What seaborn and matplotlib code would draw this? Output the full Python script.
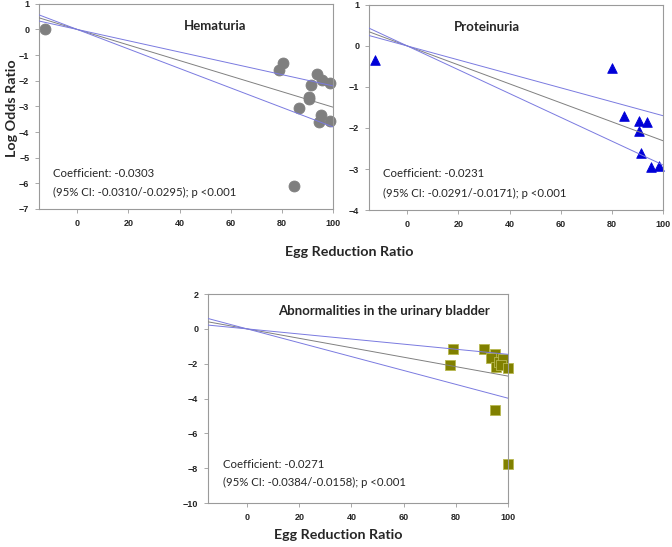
import numpy as np
import matplotlib.pyplot as plt
import seaborn as sns
import pandas as pd

# --- data ---
hema_x = [-12.7, 78.8, 80.4, 93.9, 95.8, 99.0, 91.5, 90.6, 90.6, 86.9, 95.4, 94.4, 98.7, 84.7]
hema_y = [0.0, -1.58, -1.32, -1.74, -1.97, -2.10, -2.17, -2.62, -2.73, -3.08, -3.34, -3.60, -3.57, -6.09]

prot_x = [-12.7, 80.1, 84.6, 90.6, 93.7, 90.6, 91.5, 95.4, 98.4]
prot_y = [-0.35, -0.53, -1.70, -1.82, -1.85, -2.07, -2.60, -2.95, -2.93]

blad_x = [78.9, 77.9, 90.7, 95.1, 93.6, 95.5, 96.5, 98.1, 97.4, 100.0, 94.9, 100.0]
blad_y = [-1.13, -2.10, -1.17, -1.42, -1.65, -2.19, -1.90, -1.71, -2.10, -2.23, -4.65, -7.77]

# regression slope (gray) and the two blue band lines, all through the origin
hema_slopes = [-0.0303, -0.038, -0.022]
prot_slopes = [-0.0231, -0.029, -0.017]
blad_slopes = [-0.0271, -0.0398, -0.0146]

titles = ["Hematuria", "Proteinuria", "Abnormalities in the urinary bladder"]
coef_lines = [
    ("Coefficient: -0.0303", "(95% CI: -0.0310/-0.0295); p <0.001"),
    ("Coefficient: -0.0231", "(95% CI: -0.0291/-0.0171); p <0.001"),
    ("Coefficient: -0.0271", "(95% CI: -0.0384/-0.0158); p <0.001"),
]
x_ticks = [0, 20, 40, 60, 80, 100]

sns.set_style("white")
plt.rcParams["font.family"] = ["Lato", "DejaVu Sans"]

fig = plt.figure(figsize=(6.72, 5.47), dpi=100)
ax1 = fig.add_axes([0.058, 0.618, 0.4375, 0.375])
ax2 = fig.add_axes([0.549, 0.616, 0.4375, 0.375])
ax3 = fig.add_axes([0.3095, 0.0804, 0.4464, 0.382])


def panel(ax, xs, ys, slopes, marker, color, edge, size, ylim, yticks,
          title, title_pos, coef, coef_pos):
    df = pd.DataFrame({"x": xs, "y": ys})
    sns.scatterplot(data=df, x="x", y="y", ax=ax, marker=marker, color=color,
                    edgecolor=edge, linewidth=0.6, s=size, zorder=2,
                    clip_on=False)
    # fitted line and band lines
    lx = np.array([-15, 100])
    for i, b in enumerate(slopes):
        ld = pd.DataFrame({"x": lx, "y": b * lx})
        sns.lineplot(data=ld, x="x", y="y", ax=ax,
                     color="#808080" if i == 0 else "#7a7ae0",
                     linewidth=0.7, zorder=3)
    ax.set_xlim(-15, 100)
    ax.set_ylim(*ylim)
    ax.set_xticks(x_ticks)
    ax.set_yticks(yticks)
    ax.set_xlabel("")
    ax.set_ylabel("")
    for s in ax.spines.values():
        s.set_color("#9a9a9a")
        s.set_linewidth(0.8)
    ax.tick_params(axis="both", direction="out", length=3, width=0.6,
                   color="#9a9a9a", labelsize=6.5, pad=4, left=True, bottom=True)
    for lab in ax.get_xticklabels() + ax.get_yticklabels():
        lab.set_fontweight("bold")
        lab.set_fontfamily(["Liberation Sans", "DejaVu Sans"])
    ax.text(title_pos[0], title_pos[1], title, transform=ax.transAxes,
            ha="center", va="center", fontsize=9.5, fontweight="bold")
    ax.text(coef_pos[0], coef_pos[1], coef[0], transform=ax.transAxes,
            ha="left", va="center", fontsize=8.2)
    ax.text(coef_pos[0], coef_pos[2], coef[1], transform=ax.transAxes,
            ha="left", va="center", fontsize=8.2)


panel(ax1, hema_x, hema_y, hema_slopes, "o", "#7f7f7f", "#7f7f7f", 62,
      (-7, 1), range(-7, 2), titles[0], (0.60, 0.893), coef_lines[0],
      (0.048, 0.171, 0.078))
panel(ax2, prot_x, prot_y, prot_slopes, "^", "#0000d8", "#0000d8", 48,
      (-4, 1), range(-4, 2), titles[1], (0.40, 0.893), coef_lines[1],
      (0.048, 0.176, 0.083))
panel(ax3, blad_x, blad_y, blad_slopes, "s", "#808000", "#b8b850", 58,
      (-10, 2), range(-10, 3, 2), titles[2], (0.587, 0.919), coef_lines[2],
      (0.05, 0.182, 0.10))

fig.text(12 / 672, 1 - 108 / 547, "Log Odds Ratio", rotation=90, ha="center",
         va="center", fontsize=10.3, fontweight="bold")
fig.text(349 / 672, 1 - 252 / 547, "Egg Reduction Ratio", ha="center", va="center",
         fontsize=10.3, fontweight="bold")
fig.text(338 / 672, 1 - 535 / 547, "Egg Reduction Ratio", ha="center",
         va="center", fontsize=10.3, fontweight="bold")

fig.savefig("out.png", dpi=100)
